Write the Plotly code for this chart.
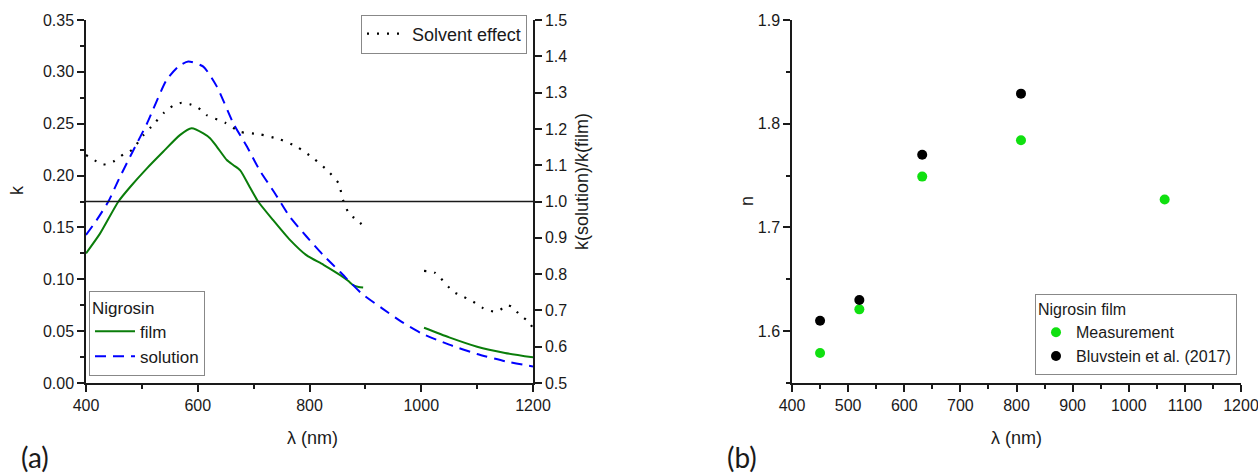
import plotly.graph_objects as go

# ---------------- Panel (a) data ----------------
film_wl_1 = [400, 425, 458, 479, 509, 538, 568, 589, 610, 622, 634, 652, 664, 676, 693, 708,
             735, 765, 795, 825, 855, 869, 878, 888, 896]
film_k_1 = [0.125, 0.144, 0.175, 0.189, 0.207, 0.223, 0.239, 0.2456, 0.2407, 0.236, 0.228, 0.215,
            0.210, 0.205, 0.189, 0.175, 0.157, 0.138, 0.123, 0.114, 0.104, 0.0986, 0.0945, 0.0925, 0.092]
film_wl_2 = [1005, 1050, 1100, 1150, 1200]
film_k_2 = [0.0533, 0.044, 0.035, 0.029, 0.0247]

sol_wl = [400, 419, 440, 461, 485, 509, 544, 565, 583, 610, 634, 664, 688, 711, 738, 765, 795,
          825, 855, 893, 930, 965, 1000, 1050, 1100, 1150, 1200]
sol_k = [0.1427, 0.157, 0.175, 0.199, 0.2247, 0.250, 0.292, 0.305, 0.310, 0.305, 0.286, 0.250,
         0.228, 0.205, 0.183, 0.160, 0.141, 0.123, 0.107, 0.0865, 0.072, 0.059, 0.048, 0.037,
         0.028, 0.021, 0.016]

ratio_wl_1 = [400, 431, 449, 467, 482, 503, 517, 540, 555, 571, 586, 601, 616, 649, 676, 711,
              747, 777, 807, 831, 852, 860, 872, 880, 890, 895]
ratio_1 = [1.128, 1.102, 1.110, 1.130, 1.142, 1.183, 1.206, 1.245, 1.263, 1.272, 1.268, 1.258,
           1.238, 1.217, 1.192, 1.185, 1.171, 1.151, 1.119, 1.087, 1.050, 1.004, 0.963, 0.955,
           0.942, 0.935]
ratio_wl_2 = [1005, 1024, 1057, 1075, 1093, 1111, 1129, 1141, 1153, 1162, 1177, 1192, 1200]
ratio_2 = [0.809, 0.804, 0.752, 0.738, 0.724, 0.706, 0.697, 0.701, 0.715, 0.710, 0.687, 0.669, 0.651]

ratio_ref = 1.0

# ---------------- Panel (b) data ----------------
meas_wl = [450, 520, 632, 808, 1064]
meas_n = [1.579, 1.621, 1.749, 1.784, 1.727]
bluv_wl = [450, 520, 632, 808]
bluv_n = [1.610, 1.630, 1.770, 1.829]

W, H = 1258, 473
FONT = "Arial"
INK = "#1a1a1a"
GREEN = "#0a7d0a"
BLUE = "#0000ff"
LIME = "#10e010"

fig = go.Figure()

fig.add_trace(go.Scatter(x=film_wl_1, y=film_k_1, mode="lines", name="film",
                         line=dict(color=GREEN, width=2, shape="spline", smoothing=0.6),
                         legend="legend", legendgroup="film", xaxis="x", yaxis="y"))
fig.add_trace(go.Scatter(x=film_wl_2, y=film_k_2, mode="lines", name="film", showlegend=False,
                         line=dict(color=GREEN, width=2, shape="spline", smoothing=0.6),
                         legend="legend", legendgroup="film", xaxis="x", yaxis="y"))
fig.add_trace(go.Scatter(x=sol_wl, y=sol_k, mode="lines", name="solution",
                         line=dict(color=BLUE, width=2, dash="11px,7px", shape="spline", smoothing=0.6),
                         legend="legend", xaxis="x", yaxis="y"))
fig.add_trace(go.Scatter(x=ratio_wl_1, y=ratio_1, mode="lines", name="Solvent effect",
                         line=dict(color="black", width=2.2, dash="2px,8px", shape="spline", smoothing=0.6),
                         legend="legend2", legendgroup="solv", xaxis="x", yaxis="y2"))
fig.add_trace(go.Scatter(x=ratio_wl_2, y=ratio_2, mode="lines", name="Solvent effect", showlegend=False,
                         line=dict(color="black", width=2.2, dash="2px,8px", shape="spline", smoothing=0.6),
                         legend="legend2", legendgroup="solv", xaxis="x", yaxis="y2"))

fig.add_shape(type="line", xref="x domain", yref="y2", x0=0, x1=1, y0=ratio_ref, y1=ratio_ref,
              line=dict(color=INK, width=1.5))

fig.add_trace(go.Scatter(x=meas_wl, y=meas_n, mode="markers", name="Measurement",
                         marker=dict(color=LIME, size=10), legend="legend3",
                         xaxis="x2", yaxis="y3"))
fig.add_trace(go.Scatter(x=bluv_wl, y=bluv_n, mode="markers", name="Bluvstein et al. (2017)",
                         marker=dict(color="black", size=10), legend="legend3",
                         xaxis="x2", yaxis="y3"))

ax_common = dict(showline=True, linecolor=INK, linewidth=1.5, ticks="outside", ticklen=7,
                 tickwidth=1.5, tickcolor=INK, showgrid=False, zeroline=False,
                 ticklabeloverflow="allow",
                 tickfont=dict(family=FONT, size=16, color=INK))
minor_common = dict(ticklen=4, tickwidth=1.5, tickcolor=INK, ticks="outside")

xa_dom = [86 / W, 533 / W]
xb_dom = [792 / W, 1241 / W]
y_dom = [1 - 383 / H, 1 - 20 / H]

fig.update_layout(
    width=W, height=H,
    margin=dict(l=0, r=0, t=0, b=0, autoexpand=False),
    paper_bgcolor="white", plot_bgcolor="white",
    font=dict(family=FONT, size=16, color=INK),
    xaxis=dict(domain=xa_dom, range=[400, 1200], dtick=200, anchor="y",
               minor=dict(dtick=100, **minor_common), **ax_common),
    yaxis=dict(domain=y_dom, range=[0, 0.35], dtick=0.05, tickformat=".2f", anchor="x",
               minor=dict(dtick=0.025, **minor_common), **ax_common),
    yaxis2=dict(domain=y_dom, range=[0.5, 1.5], dtick=0.1, tickformat=".1f", overlaying="y",
                side="right", anchor="x", **ax_common),
    xaxis2=dict(domain=xb_dom, range=[400, 1200], dtick=100, anchor="y3",
                minor=dict(dtick=50, **minor_common), **ax_common),
    yaxis3=dict(domain=y_dom, range=[1.55, 1.9], dtick=0.1, tick0=1.6, tickformat=".1f", anchor="x2",
                minor=dict(dtick=0.05, **minor_common), **ax_common),
    legend=dict(x=89 / W, y=1 - 333 / H, xanchor="left", yanchor="middle",
                bordercolor="#888888", borderwidth=1, bgcolor="white",
                title=dict(text="Nigrosin", font=dict(family=FONT, size=17, color=INK)),
                font=dict(family=FONT, size=17, color=INK), itemwidth=40,
                tracegroupgap=0),
    legend2=dict(x=527 / W, y=1 - 34 / H, xanchor="right", yanchor="middle",
                 bordercolor="#888888", borderwidth=1, bgcolor="white",
                 font=dict(family=FONT, size=18, color=INK), itemwidth=40),
    legend3=dict(x=1237 / W, y=1 - 334 / H, xanchor="right", yanchor="middle",
                 bordercolor="#888888", borderwidth=1, bgcolor="white",
                 title=dict(text="Nigrosin film", font=dict(family=FONT, size=16, color=INK)),
                 font=dict(family=FONT, size=16, color=INK), itemwidth=30),
)

def ann(text, x, y, size, angle=0, family=FONT):
    fig.add_annotation(text=text, x=x / W, y=1 - y / H, xref="paper", yref="paper",
                       showarrow=False, textangle=angle, xanchor="center", yanchor="middle",
                       font=dict(family=family, size=size, color=INK))

ann("k", 17, 190, 18, -90)
ann("k(solution)/k(film)", 582, 182, 18, -90)
ann("λ (nm)", 312, 438, 18)
ann("n", 747, 201, 18, -90)
ann("λ (nm)", 1016, 438, 18)
ann("(a)", 35, 457, 28, family="Lato")
ann("(b)", 742, 457, 28, family="Lato")

fig.write_html("out.html", config={"displayModeBar": False},
               post_script="document.body.style.margin='0px';document.body.style.overflow='hidden';")
